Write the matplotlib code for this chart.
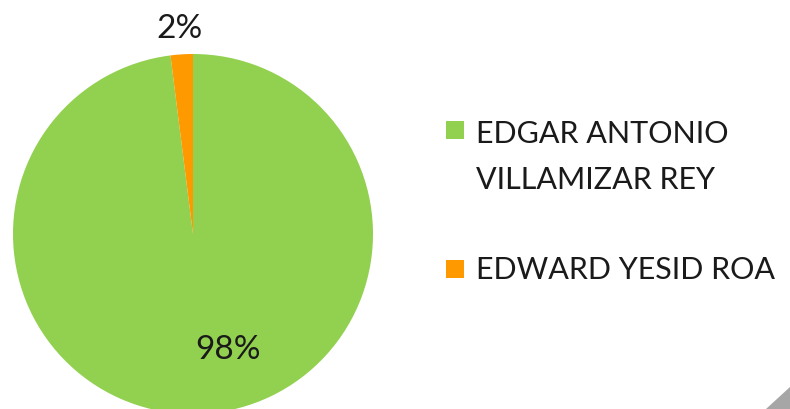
import matplotlib
matplotlib.use("Agg")
import matplotlib.pyplot as plt
from matplotlib.patches import Rectangle, Polygon

names = ["EDGAR ANTONIO\nVILLAMIZAR REY", "EDWARD YESID ROA"]
values = [98, 2]
colors = ["#92D050", "#FF9900"]
pct_labels = ["98%", "2%"]

W, H = 790, 410
fig = plt.figure(figsize=(W / 100, H / 100), dpi=100)
fig.patch.set_facecolor("white")
FONT = ["Lato", "DejaVu Sans"]

# pie axes: centre (193,235) px, radius 180
cx, cy, r = 193, 235, 180
ax = fig.add_axes([(cx - r) / W, (H - cy - r) / H, 2 * r / W, 2 * r / H])
ax.pie(values, colors=colors, startangle=90, counterclock=False, radius=1,
       wedgeprops=dict(linewidth=0))
ax.set_xlim(-1, 1)
ax.set_ylim(-1, 1)
ax.set_aspect("equal")
ax.axis("off")

label_pos = [((228 - cx) / r, (cy - 350) / r), ((180 - cx) / r, (cy - 29) / r)]
for lab, (x, y) in zip(pct_labels, label_pos):
    ax.text(x, y, lab, ha="center", va="center", fontsize=24, family=FONT,
            color="#1a1a1a", clip_on=False)

# legend
leg_y = [131, 270]
text_y = [157, 270]
for name, col, my, ty in zip(names, colors, leg_y, text_y):
    fig.patches.append(Rectangle(((446) / W, (H - my - 9) / H), 18 / W, 18 / H,
                                 transform=fig.transFigure, facecolor=col,
                                 edgecolor="none"))
    fig.text(476 / W, (H - ty) / H, name, ha="left", va="center", fontsize=22,
             family=FONT, color="#1a1a1a", linespacing=1.75)

# grey corner shadow
fig.patches.append(Polygon([(1.0, 0.0), (1.0, 22 / H), (766 / W, 0.0)],
                           closed=True, transform=fig.transFigure,
                           facecolor="#a6a6a6", edgecolor="none"))

fig.savefig("out.png", dpi=100)
